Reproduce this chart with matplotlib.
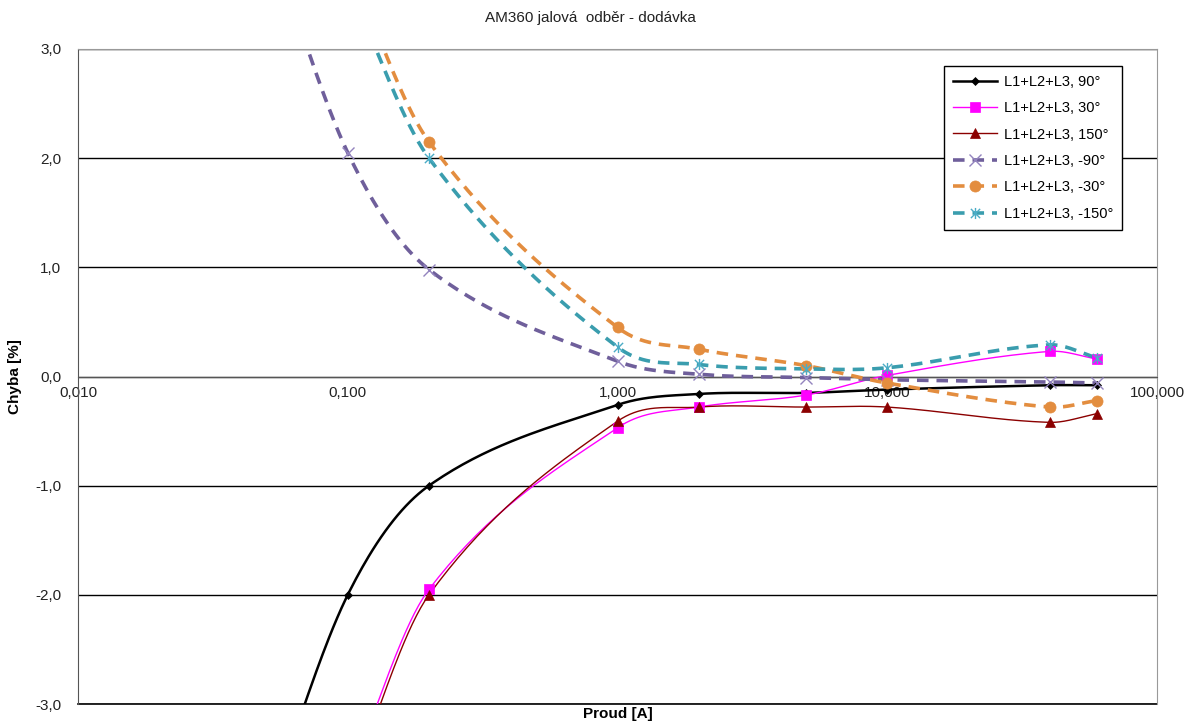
"""AM360 reactive energy error curve (import / export)."""

import numpy as np
import matplotlib

matplotlib.use("Agg")
import matplotlib.pyplot as plt
from matplotlib.lines import Line2D
from matplotlib.path import Path

plt.rcParams["font.family"] = ["Liberation Sans", "DejaVu Sans"]

# current points [A] (NaN value = no point for that series)
current = [0.05, 0.1, 0.2, 1, 2, 5, 10, 40, 60]

err_90 = [-4.0, -2.0, -1.0, -0.26, -0.16, -0.15, -0.12, -0.08, -0.08]
err_30 = [np.nan, -3.7, -1.95, -0.47, -0.28, -0.17, 0.01, 0.23, 0.16]
err_150 = [np.nan, -3.8, -2.0, -0.41, -0.28, -0.28, -0.28, -0.42, -0.34]
err_m90 = [4.1, 2.05, 0.98, 0.14, 0.02, -0.01, -0.03, -0.05, -0.06]
err_m30 = [np.nan, 3.8, 2.15, 0.45, 0.25, 0.10, -0.06, -0.28, -0.22]
err_m150 = [np.nan, 3.6, 2.0, 0.27, 0.11, 0.07, 0.08, 0.29, 0.17]

series_labels = [
    "L1+L2+L3, 90°",
    "L1+L2+L3, 30°",
    "L1+L2+L3, 150°",
    "L1+L2+L3, -90°",
    "L1+L2+L3, -30°",
    "L1+L2+L3, -150°",
]

xtick_values = [0.01, 0.1, 1, 10, 100]
xtick_labels = ["0,010", "0,100", "1,000", "10,000", "100,000"]
ytick_values = [-3, -2, -1, 0, 1, 2, 3]
ytick_labels = ["-3,0", "-2,0", "-1,0", "0,0", "1,0", "2,0", "3,0"]

# x + vertical bar, like the spreadsheet "star" marker
star = Path(
    [(-1, -1), (1, 1), (-1, 1), (1, -1), (0, -1.2), (0, 1.2)],
    [Path.MOVETO, Path.LINETO, Path.MOVETO, Path.LINETO, Path.MOVETO, Path.LINETO],
)


def smooth(xs, ys, n=40):
    """Smoothed line through the points (cubic Hermite in log-x space)."""
    xs = np.asarray(xs, float)
    ys = np.asarray(ys, float)
    ok = ~np.isnan(ys)
    lx, y = np.log10(xs[ok]), ys[ok]
    m = len(lx)
    slope = np.empty(m)
    slope[0] = (y[1] - y[0]) / (lx[1] - lx[0])
    slope[-1] = (y[-1] - y[-2]) / (lx[-1] - lx[-2])
    slope[1:-1] = (y[2:] - y[:-2]) / (lx[2:] - lx[:-2])
    t = np.linspace(0, 1, n)
    out_x, out_y = [], []
    for i in range(m - 1):
        h = lx[i + 1] - lx[i]
        h00 = 2 * t ** 3 - 3 * t ** 2 + 1
        h10 = t ** 3 - 2 * t ** 2 + t
        h01 = -2 * t ** 3 + 3 * t ** 2
        h11 = t ** 3 - t ** 2
        out_x.append(lx[i] + t * h)
        out_y.append(h00 * y[i] + h10 * h * slope[i] + h01 * y[i + 1] + h11 * h * slope[i + 1])
    return 10 ** np.concatenate(out_x), np.concatenate(out_y)


styles = [
    dict(color="#000000", lw=1.8, ls="-", marker="D", ms=4, mfc="#000000", mec="#000000", mew=0.5),
    dict(color="#FF00FF", lw=1.0, ls="-", marker="s", ms=7, mfc="#FF00FF", mec="#FF00FF", mew=0.5),
    dict(color="#8B0000", lw=1.0, ls="-", marker="^", ms=7, mfc="#8B0000", mec="#8B0000", mew=0.5),
    dict(color="#6F5F9B", lw=2.6, ls=(0, (3.2, 2.2)), marker="x", ms=8, mfc="none", mec="#9384BE", mew=1.0),
    dict(color="#E38D3F", lw=2.6, ls=(0, (3.2, 2.2)), marker="o", ms=8, mfc="#E38D3F", mec="#E38D3F", mew=0.5),
    dict(color="#3A9DAE", lw=2.6, ls=(0, (3.2, 2.2)), marker=star, ms=8, mfc="none", mec="#4BACC6", mew=1.0),
]

fig = plt.figure(figsize=(11.9, 7.26), dpi=100)
ax = fig.add_axes([78 / 1190, 22 / 726, 1079 / 1190, 655 / 726])

all_series = [err_90, err_30, err_150, err_m90, err_m30, err_m150]
handles = []
for values, st, label in zip(all_series, styles, series_labels):
    sx, sy = smooth(current, values)
    ax.plot(sx, sy, color=st["color"], lw=st["lw"], ls=st["ls"], zorder=3)
    ax.plot(current, values, ls="none", marker=st["marker"], ms=st["ms"],
            mfc=st["mfc"], mec=st["mec"], mew=st["mew"], zorder=4)
    handles.append(Line2D([], [], color=st["color"], lw=st["lw"], ls=st["ls"],
                          marker=st["marker"], ms=st["ms"], mfc=st["mfc"],
                          mec=st["mec"], mew=st["mew"], label=label))

ax.set_xscale("log")
ax.set_xlim(0.01, 100)
ax.set_ylim(-3, 3)
ax.set_xticks(xtick_values)
ax.set_xticklabels(xtick_labels)
ax.xaxis.set_minor_locator(matplotlib.ticker.NullLocator())
ax.set_yticks(ytick_values)
ax.set_yticklabels(ytick_labels)
ax.tick_params(axis="both", length=0, labelsize=11, labelcolor="#222222")
ax.tick_params(axis="y", pad=12)
ax.tick_params(axis="x", pad=7)

ax.yaxis.grid(True, color="#000000", lw=1.0)
ax.set_axisbelow(True)

ax.spines["bottom"].set_position(("data", 0))
ax.spines["bottom"].set_color("#555555")
ax.spines["left"].set_color("#555555")
ax.spines["top"].set_color("#999999")
ax.spines["right"].set_color("#999999")
ax.axhline(-3, color="#000000", lw=1.2, clip_on=False, zorder=2)

ax.set_xlabel("Proud [A]", fontsize=11, fontweight="bold")
ax.xaxis.set_label_coords(0.5, -0.005)
ax.xaxis.label.set_va("top")
ax.set_ylabel("Chyba [%]", fontsize=11, fontweight="bold")
ax.yaxis.set_label_coords(-0.052, 0.5)

fig.text(590 / 1190, 1 - 18 / 726, "AM360 jalová  odběr - dodávka",
         ha="center", va="center", fontsize=11, color="#222222")

leg = ax.legend(handles=handles, loc="upper right", bbox_to_anchor=(0.9676, 0.974),
                borderaxespad=0, fontsize=10.5, handlelength=3.0, handletextpad=0.5,
                labelspacing=0.85, borderpad=0.6, fancybox=False, framealpha=1)
leg.get_frame().set_edgecolor("#000000")
leg.get_frame().set_linewidth(1.0)

fig.savefig("out.png", dpi=100)
